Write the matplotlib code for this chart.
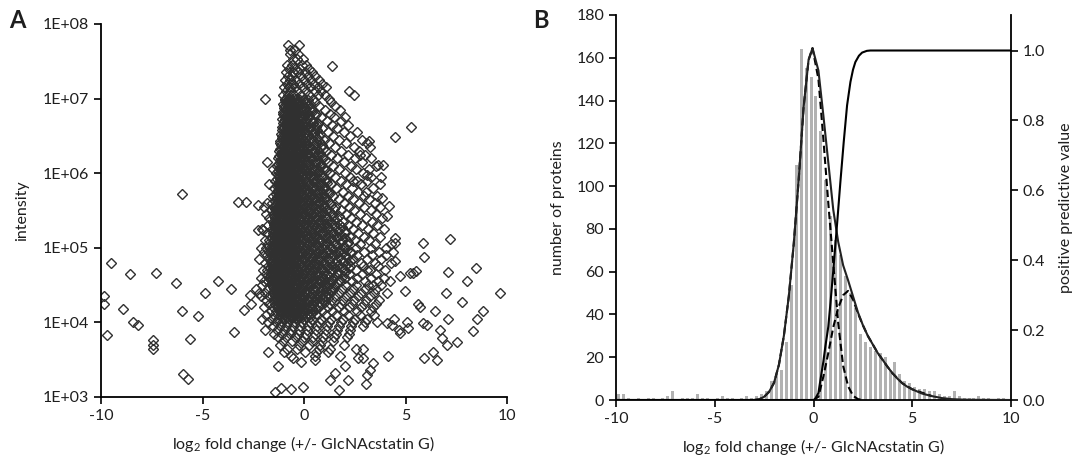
import numpy as np
import matplotlib
matplotlib.use('Agg')
import matplotlib.pyplot as plt
from matplotlib.ticker import FixedLocator, NullLocator

plt.rcParams['font.family'] = ['Lato', 'DejaVu Sans']
plt.rcParams['mathtext.fontset'] = 'custom'
plt.rcParams['mathtext.rm'] = 'Lato'
plt.rcParams['mathtext.it'] = 'Lato:italic'
plt.rcParams['mathtext.bf'] = 'Lato:bold'

TXT = '#1e1e1e'

# ---------------- Panel A: scatter (log2 fold change, log10 intensity) ----------------
# rows of points, "log10(intensity): x values"
core_rows = """
7.72: -0.77 -0.25
7.65: -0.70 -0.45
7.60: -0.69 -0.30
7.53: -0.53 -0.36 -0.05
7.45: -0.85 -0.61 -0.11 0.10
7.40: -0.75 -0.45 -0.20 0.25
7.35: -0.90 -0.55 -0.30 0.05 0.40
7.30: -0.80 -0.60 -0.15 0.20 0.55
7.25: -0.95 -0.70 -0.40 0.00 0.35 0.75
7.20: -0.85 -0.55 -0.25 0.15 0.50 0.90
7.15: -1.00 -0.75 -0.45 -0.05 0.30 0.70 1.10
7.10: -0.90 -0.65 -0.35 0.10 0.55 0.85 2.20
7.05: -1.05 -0.80 -0.50 -0.15 0.25 0.70 1.05 2.45
7.00: -1.90 -0.95 -0.70 -0.40 0.00 0.45 1.25
6.95: -0.90 -0.65 -0.40 0.05 0.55 1.35
6.90: -1.00 -0.80 -0.55 -0.25 0.20 0.75 1.55
6.85: -0.90 -0.70 -0.45 -0.10 0.40 1.05 1.75
6.80: -1.05 -0.85 -0.60 -0.35 0.00 0.60 1.30
6.75: -0.95 -0.75 -0.50 -0.20 0.25 0.85 1.50 2.00
6.70: -1.00 -0.85 -0.65 -0.40 0.10 0.45 1.15 1.80
6.65: -0.90 -0.75 -0.55 -0.30 0.00 0.65 1.40 2.15
6.60: -1.05 -0.85 -0.65 -0.45 -0.15 0.30 0.90 1.65
6.55: -0.95 -0.80 -0.60 -0.35 0.10 0.50 1.20 1.95 2.60
6.50: -1.10 -0.90 -0.70 -0.50 -0.20 0.20 0.75 1.45 2.25
6.45: -1.00 -0.85 -0.65 -0.40 -0.05 0.40 1.00 1.70 2.85
6.40: -1.20 -0.95 -0.75 -0.55 -0.25 0.10 0.60 1.25 2.05 3.10
6.35: -1.05 -0.90 -0.70 -0.45 -0.10 0.30 0.85 1.55 2.45 3.25
6.30: -1.25 -1.00 -0.80 -0.60 -0.35 0.00 0.50 1.10 1.80 2.70
6.25: -1.10 -0.95 -0.75 -0.50 -0.20 0.20 0.70 1.35 2.15 3.00
6.20: -1.30 -1.05 -0.85 -0.65 -0.40 -0.05 0.40 0.95 1.65 2.50 3.30
6.15: -1.15 -1.00 -0.80 -0.55 -0.25 0.15 0.60 1.20 1.95 2.85
6.10: -1.35 -1.10 -0.90 -0.70 -0.45 -0.15 0.25 0.80 1.45 2.30 3.55
6.05: -1.55 -1.20 -1.00 -0.80 -0.55 -0.30 0.05 0.50 1.05 1.70 2.55 3.20
6.00: -1.40 -1.15 -0.95 -0.75 -0.50 -0.20 0.20 0.70 1.30 2.00 2.90
5.95: -1.25 -1.05 -0.85 -0.65 -0.40 -0.10 0.35 0.90 1.55 2.25 3.30 3.80
5.90: -1.45 -1.20 -1.00 -0.80 -0.55 -0.30 0.10 0.55 1.10 1.80 2.60 3.10
5.85: -1.70 -1.30 -1.10 -0.90 -0.70 -0.45 -0.15 0.30 0.80 1.35 2.05 2.80 3.75
5.80: -1.50 -1.25 -1.05 -0.85 -0.60 -0.35 0.00 0.45 1.00 1.60 2.35 3.40
5.75: -1.35 -1.15 -0.95 -0.75 -0.50 -0.20 0.20 0.65 1.25 1.90 2.65 3.05
5.70: -1.55 -1.30 -1.10 -0.90 -0.65 -0.40 -0.05 0.35 0.85 1.45 2.15 2.95 3.60
5.65: -1.40 -1.20 -1.00 -0.80 -0.55 -0.25 0.15 0.55 1.05 1.70 2.40 3.20
5.60: -1.80 -1.60 -1.35 -1.15 -0.95 -0.70 -0.45 -0.10 0.30 0.75 1.30 1.95 2.70 3.50
5.55: -1.95 -1.50 -1.25 -1.05 -0.85 -0.60 -0.35 0.05 0.45 0.95 1.55 2.20 2.95 3.75
5.50: -1.65 -1.40 -1.20 -1.00 -0.75 -0.50 -0.20 0.20 0.65 1.15 1.80 2.45 3.30
5.45: -1.85 -1.55 -1.30 -1.10 -0.90 -0.65 -0.35 0.00 0.40 0.90 1.40 2.05 2.75 3.55
5.40: -1.70 -1.45 -1.25 -1.05 -0.80 -0.55 -0.25 0.15 0.60 1.10 1.65 2.30 3.05 3.85
5.35: -1.55 -1.35 -1.15 -0.95 -0.70 -0.45 -0.10 0.30 0.80 1.30 1.90 2.55 3.35
5.30: -1.75 -1.50 -1.30 -1.10 -0.85 -0.60 -0.30 0.05 0.50 1.00 1.50 2.15 2.85 3.60
5.25: -2.05 -1.60 -1.40 -1.20 -1.00 -0.75 -0.45 -0.15 0.25 0.70 1.20 1.75 2.40 3.15 3.95
5.20: -1.80 -1.55 -1.35 -1.15 -0.90 -0.65 -0.35 0.00 0.40 0.90 1.45 2.00 2.65 3.40
5.15: -1.65 -1.45 -1.25 -1.05 -0.80 -0.55 -0.20 0.15 0.60 1.10 1.65 2.25 2.95 3.75
5.10: -1.90 -1.70 -1.50 -1.30 -1.10 -0.90 -0.65 -0.40 -0.05 0.35 0.80 1.30 1.85 2.50 3.20
5.05: -1.75 -1.55 -1.40 -1.20 -1.00 -0.75 -0.50 -0.20 0.20 0.60 1.05 1.55 2.10 2.75 3.50 4.30
5.00: -2.10 -1.85 -1.60 -1.45 -1.25 -1.05 -0.85 -0.60 -0.30 0.05 0.45 0.90 1.40 1.95 2.55 3.30 4.05
4.95: -1.95 -1.70 -1.50 -1.30 -1.15 -0.95 -0.70 -0.45 -0.15 0.25 0.70 1.15 1.70 2.30 2.95 3.70 4.40
4.90: -1.80 -1.60 -1.40 -1.20 -1.00 -0.80 -0.55 -0.25 0.10 0.50 0.95 1.45 2.00 2.60 3.35 4.05
4.85: -2.20 -1.70 -1.50 -1.30 -1.10 -0.90 -0.65 -0.40 -0.05 0.35 0.75 1.25 1.80 2.40 3.10 3.80
4.80: -1.90 -1.65 -1.45 -1.25 -1.05 -0.80 -0.55 -0.20 0.15 0.55 1.05 1.55 2.15 2.80 3.50 4.30
4.75: -1.75 -1.55 -1.35 -1.15 -0.95 -0.70 -0.45 -0.10 0.30 0.70 1.15 1.65 2.25 2.90 3.65
4.70: -2.00 -1.80 -1.60 -1.40 -1.20 -1.00 -0.80 -0.55 -0.30 0.05 0.45 0.90 1.40 1.95 2.55 3.25 4.00
4.65: -1.85 -1.65 -1.45 -1.25 -1.05 -0.85 -0.60 -0.35 -0.05 0.30 0.70 1.15 1.65 2.20 2.85 3.55
4.60: -2.10 -1.70 -1.50 -1.30 -1.10 -0.90 -0.70 -0.45 -0.15 0.20 0.55 0.95 1.45 2.00 2.60 3.30 3.95
4.55: -1.95 -1.75 -1.55 -1.35 -1.15 -0.95 -0.75 -0.50 -0.25 0.10 0.45 0.85 1.30 1.80 2.35 3.00 3.65 4.25
4.50: -2.05 -1.60 -1.40 -1.20 -1.00 -0.80 -0.60 -0.35 -0.05 0.30 0.65 1.05 1.50 2.00 2.55 3.15 3.80
4.45: -2.35 -1.75 -1.50 -1.30 -1.10 -0.90 -0.70 -0.45 -0.15 0.15 0.50 0.90 1.35 1.85 2.40 3.00 3.55
4.40: -1.90 -1.55 -1.35 -1.15 -0.95 -0.75 -0.50 -0.25 0.05 0.40 0.80 1.20 1.70 2.25 2.80 3.45 4.10
4.35: -2.10 -1.70 -1.45 -1.25 -1.05 -0.85 -0.60 -0.35 -0.05 0.30 0.65 1.05 1.55 2.05 2.65 3.25
4.30: -1.85 -1.55 -1.35 -1.15 -0.90 -0.65 -0.40 -0.10 0.20 0.55 0.95 1.40 1.90 2.45 3.05 3.70
4.25: -1.70 -1.45 -1.20 -1.00 -0.75 -0.50 -0.20 0.10 0.45 0.85 1.30 1.80 2.35 2.95 3.55
4.20: -1.95 -1.55 -1.30 -1.05 -0.80 -0.55 -0.30 0.00 0.35 0.75 1.20 1.70 2.20 2.80 3.40
4.15: -1.65 -1.40 -1.15 -0.90 -0.60 -0.30 0.05 0.45 0.90 1.40 1.95 2.60 3.30
4.10: -1.85 -1.50 -1.20 -0.95 -0.70 -0.40 -0.10 0.25 0.65 1.10 1.60 2.15 2.75 3.45
4.05: -2.05 -1.60 -1.30 -1.00 -0.70 -0.35 0.00 0.40 0.85 1.35 1.90 2.50 3.10
4.00: -1.75 -1.40 -1.10 -0.80 -0.45 -0.10 0.30 0.75 1.25 1.80 2.40 3.00 3.60
3.95: -1.55 -1.20 -0.90 -0.55 -0.20 0.20 0.65 1.15 1.70 2.30 2.90
3.90: -1.35 -1.00 -0.65 -0.25 0.15 0.60 1.10 1.65 2.25
3.85: -1.50 -1.10 -0.70 -0.30 0.10 0.55 1.05 1.60 2.20
3.80: -1.30 -0.90 -0.45 0.00 0.45 0.95 1.50 2.10
3.75: -1.05 -0.60 -0.10 0.40 0.90 1.45
3.70: -1.20 -0.25 0.25 0.80 1.95
3.65: -0.85 -0.35 0.75 1.30
3.60: -1.00 0.05 0.60 1.20
3.55: -0.65 0.55 1.75
"""

# the crowded black centre of the cloud, between the rows above
dense_rows = """
6.975: -0.95 -0.82 -0.68 -0.57 -0.43 -0.31 -0.18 0.02 0.22
6.925: -1.02 -0.88 -0.76 -0.61 -0.49 -0.36 -0.22 -0.08 0.12 0.31
6.875: -0.97 -0.84 -0.71 -0.58 -0.46 -0.33 -0.14 0.06 0.28
6.825: -1.05 -0.92 -0.79 -0.66 -0.52 -0.39 -0.27 -0.09 0.15 0.38
6.775: -1.00 -0.86 -0.73 -0.60 -0.47 -0.34 -0.20 0.00 0.24 0.52
6.725: -1.08 -0.94 -0.81 -0.69 -0.55 -0.42 -0.29 -0.12 0.08 0.33
6.675: -1.03 -0.89 -0.76 -0.63 -0.50 -0.37 -0.23 -0.05 0.18 0.44 0.70
6.625: -1.10 -0.97 -0.84 -0.71 -0.58 -0.44 -0.31 -0.16 0.04 0.27 0.58
6.575: -1.06 -0.92 -0.79 -0.66 -0.53 -0.40 -0.26 -0.08 0.13 0.38 0.66
6.525: -1.14 -1.00 -0.87 -0.74 -0.61 -0.47 -0.33 -0.18 0.01 0.22 0.48 0.80
6.475: -1.09 -0.95 -0.82 -0.69 -0.56 -0.42 -0.28 -0.11 0.09 0.33 0.62
6.425: -1.17 -1.03 -0.90 -0.77 -0.64 -0.50 -0.36 -0.21 -0.03 0.18 0.43 0.74
6.375: -1.12 -0.98 -0.85 -0.72 -0.59 -0.45 -0.31 -0.15 0.05 0.27 0.53 0.88
6.325: -1.20 -1.06 -0.93 -0.80 -0.67 -0.53 -0.39 -0.24 -0.07 0.13 0.37 0.66 0.95
6.275: -1.15 -1.01 -0.88 -0.75 -0.62 -0.48 -0.34 -0.18 0.01 0.22 0.47 0.78
6.225: -1.23 -1.09 -0.96 -0.83 -0.70 -0.56 -0.42 -0.27 -0.10 0.09 0.31 0.57 0.90
6.175: -1.18 -1.04 -0.91 -0.78 -0.65 -0.51 -0.37 -0.21 -0.03 0.17 0.41 0.69 1.02
6.125: -1.26 -1.12 -0.99 -0.86 -0.73 -0.59 -0.45 -0.30 -0.13 0.06 0.27 0.52 0.82
6.075: -1.21 -1.07 -0.94 -0.81 -0.68 -0.54 -0.40 -0.24 -0.06 0.14 0.37 0.63 0.95
6.025: -1.29 -1.15 -1.02 -0.89 -0.76 -0.62 -0.48 -0.33 -0.16 0.03 0.24 0.48 0.76 1.08
5.975: -1.24 -1.10 -0.97 -0.84 -0.71 -0.57 -0.43 -0.27 -0.09 0.11 0.33 0.59 0.89
5.925: -1.32 -1.18 -1.05 -0.92 -0.79 -0.65 -0.51 -0.36 -0.19 0.00 0.21 0.45 0.72 1.02
5.875: -1.27 -1.13 -1.00 -0.87 -0.74 -0.60 -0.46 -0.30 -0.12 0.08 0.30 0.55 0.84 1.15
5.825: -1.35 -1.21 -1.08 -0.95 -0.82 -0.68 -0.54 -0.39 -0.22 -0.03 0.18 0.42 0.68 0.98
5.775: -1.30 -1.16 -1.03 -0.90 -0.77 -0.63 -0.49 -0.33 -0.15 0.05 0.27 0.51 0.79 1.10
5.725: -1.38 -1.24 -1.11 -0.98 -0.85 -0.71 -0.57 -0.42 -0.25 -0.06 0.15 0.38 0.64 0.93 1.25
5.675: -1.33 -1.19 -1.06 -0.93 -0.80 -0.66 -0.52 -0.36 -0.18 0.02 0.24 0.48 0.75 1.05
5.625: -1.41 -1.27 -1.14 -1.01 -0.88 -0.74 -0.60 -0.45 -0.28 -0.09 0.12 0.35 0.60 0.88 1.19
5.575: -1.36 -1.22 -1.09 -0.96 -0.83 -0.69 -0.55 -0.39 -0.21 -0.01 0.21 0.45 0.71 1.00 1.32
5.525: -1.44 -1.30 -1.17 -1.04 -0.91 -0.77 -0.63 -0.48 -0.31 -0.12 0.09 0.32 0.57 0.84 1.14 1.46
5.475: -1.39 -1.25 -1.12 -0.99 -0.86 -0.72 -0.58 -0.42 -0.24 -0.04 0.18 0.42 0.68 0.96 1.27
5.425: -1.47 -1.33 -1.20 -1.07 -0.94 -0.80 -0.66 -0.51 -0.34 -0.15 0.06 0.29 0.54 0.81 1.10 1.41 1.70
5.375: -1.42 -1.28 -1.15 -1.02 -0.89 -0.75 -0.61 -0.45 -0.27 -0.07 0.15 0.39 0.65 0.93 1.23 1.55
5.325: -1.50 -1.36 -1.23 -1.10 -0.97 -0.83 -0.69 -0.54 -0.37 -0.18 0.03 0.26 0.51 0.78 1.07 1.38 1.72
5.275: -1.45 -1.31 -1.18 -1.05 -0.92 -0.78 -0.64 -0.48 -0.30 -0.10 0.12 0.36 0.62 0.90 1.20 1.52 1.86
5.225: -1.53 -1.39 -1.26 -1.13 -1.00 -0.86 -0.72 -0.57 -0.40 -0.21 0.00 0.23 0.48 0.75 1.04 1.35 1.68 2.03
5.175: -1.48 -1.34 -1.21 -1.08 -0.95 -0.81 -0.67 -0.51 -0.33 -0.13 0.09 0.33 0.59 0.87 1.17 1.49 1.83
5.125: -1.56 -1.42 -1.29 -1.16 -1.03 -0.89 -0.75 -0.60 -0.43 -0.24 -0.03 0.20 0.45 0.72 1.01 1.32 1.65 2.00
5.075: -1.51 -1.37 -1.24 -1.11 -0.98 -0.84 -0.70 -0.54 -0.36 -0.16 0.06 0.30 0.56 0.84 1.14 1.46 1.80 2.16
5.025: -1.59 -1.45 -1.32 -1.19 -1.06 -0.92 -0.78 -0.63 -0.46 -0.27 -0.06 0.17 0.42 0.69 0.98 1.29 1.62 1.97
4.975: -1.54 -1.40 -1.27 -1.14 -1.01 -0.87 -0.73 -0.57 -0.39 -0.19 0.03 0.27 0.53 0.81 1.11 1.43 1.77 2.13
4.925: -1.62 -1.48 -1.35 -1.22 -1.09 -0.95 -0.81 -0.66 -0.49 -0.30 -0.09 0.14 0.39 0.66 0.95 1.26 1.59 1.94 2.30
4.875: -1.57 -1.43 -1.30 -1.17 -1.04 -0.90 -0.76 -0.60 -0.42 -0.22 0.00 0.24 0.50 0.78 1.08 1.40 1.74 2.10
4.825: -1.65 -1.51 -1.38 -1.25 -1.12 -0.98 -0.84 -0.69 -0.52 -0.33 -0.12 0.11 0.36 0.63 0.92 1.23 1.56 1.91 2.27
4.775: -1.60 -1.46 -1.33 -1.20 -1.07 -0.93 -0.79 -0.63 -0.45 -0.25 -0.03 0.21 0.47 0.75 1.05 1.37 1.71 2.07
4.725: -1.68 -1.54 -1.41 -1.28 -1.15 -1.01 -0.87 -0.72 -0.55 -0.36 -0.15 0.08 0.33 0.60 0.89 1.20 1.53 1.88 2.24
4.675: -1.63 -1.49 -1.36 -1.23 -1.10 -0.96 -0.82 -0.66 -0.48 -0.28 -0.06 0.18 0.44 0.72 1.02 1.34 1.68 2.04
4.625: -1.66 -1.52 -1.39 -1.26 -1.13 -0.99 -0.85 -0.70 -0.53 -0.34 -0.13 0.10 0.35 0.62 0.91 1.22 1.55 1.90
4.575: -1.61 -1.47 -1.34 -1.21 -1.08 -0.94 -0.80 -0.64 -0.46 -0.26 -0.04 0.20 0.46 0.74 1.04 1.36 1.70
4.525: -1.58 -1.44 -1.31 -1.18 -1.05 -0.91 -0.77 -0.62 -0.45 -0.26 -0.05 0.18 0.43 0.70 0.99 1.30 1.63
4.475: -1.53 -1.39 -1.26 -1.13 -1.00 -0.86 -0.72 -0.56 -0.38 -0.18 0.04 0.28 0.54 0.82 1.12 1.44
4.425: -1.49 -1.35 -1.22 -1.09 -0.96 -0.82 -0.68 -0.53 -0.36 -0.17 0.04 0.27 0.52 0.79 1.08 1.39
4.375: -1.44 -1.30 -1.17 -1.04 -0.91 -0.77 -0.63 -0.47 -0.29 -0.09 0.13 0.37 0.63 0.91 1.21
4.325: -1.38 -1.24 -1.11 -0.98 -0.85 -0.71 -0.57 -0.42 -0.25 -0.06 0.15 0.38 0.63 0.90 1.19
4.275: -1.33 -1.19 -1.06 -0.93 -0.80 -0.66 -0.52 -0.36 -0.18 0.02 0.24 0.48 0.74 1.02
4.225: -1.27 -1.13 -1.00 -0.87 -0.74 -0.60 -0.46 -0.31 -0.14 0.05 0.26 0.49 0.74
4.175: -1.20 -1.06 -0.93 -0.80 -0.67 -0.53 -0.39 -0.23 -0.05 0.15 0.37 0.61
4.125: -1.14 -1.00 -0.87 -0.74 -0.61 -0.47 -0.33 -0.18 -0.01 0.18 0.39
4.075: -1.05 -0.91 -0.78 -0.65 -0.52 -0.38 -0.24 -0.08 0.10 0.30
"""

# isolated points read individually (log2 fold change, log10 intensity)
out_x = [-9.51, -9.85, -9.85, -9.72, -8.57, -8.90, -8.44, -8.18, -7.31, -7.45, -7.45, -7.45,
         -6.31, -5.99, -6.02, -5.22, -4.89, -5.62, -5.98, -5.73, -4.22, -3.60, -3.43, -3.24,
         -2.87, -2.94, -2.66, -2.63, -2.22, -2.25, -2.28, -2.00, -1.84, -1.92, -1.79, -1.43,
         -1.13, -0.64, -0.06, 1.71, -1.30, -0.53, -0.15, 0.54, 1.28, 1.53, 2.02, 2.18, 3.05,
         3.09, 3.25, 3.38, 2.56, 2.92, 2.67, 2.92, 4.15, 5.91, 6.37, 6.54, 7.03, 7.52, 6.78,
         6.70, 7.11, 7.77, 8.34, 8.51, 8.83, 8.01, 8.47, 7.11, 9.66, 6.98, 7.19, 6.45, 5.88,
         5.91, 5.85, 6.04, 5.63, 5.71, 5.52, 5.22, 5.38, 4.73, 4.98, 4.48, 4.48, 4.48, 4.48,
         5.27, 4.07, 3.83, 4.20, 3.88, 3.66, 3.22, 3.09, 2.76, 4.73, 5.06, 5.14, 4.07, 4.32,
         1.40, 4.70, 4.45, 3.40, 3.10, 2.40]
out_logI = [4.79, 4.35, 4.25, 3.83, 4.65, 4.18, 4.01, 3.97, 4.66, 3.77, 3.70, 3.65,
            4.53, 5.72, 4.15, 4.08, 4.40, 3.78, 3.31, 3.24, 4.55, 4.45, 3.87, 5.62,
            5.62, 4.16, 4.37, 4.24, 4.39, 5.58, 5.24, 5.24, 6.15, 3.90, 3.60, 3.07,
            3.12, 3.11, 3.13, 3.09, 3.41, 3.52, 3.47, 3.50, 3.23, 3.32, 3.41, 3.23, 3.17,
            3.30, 3.36, 3.46, 3.65, 3.65, 3.52, 3.52, 3.55, 3.52, 3.60, 3.50, 3.70, 3.74, 3.79,
            3.90, 4.05, 4.28, 3.89, 4.05, 4.15, 4.55, 4.73, 4.67, 4.39, 4.39, 5.12, 4.15, 5.07,
            4.88, 3.99, 3.97, 4.25, 4.21, 4.69, 4.66, 4.66, 4.62, 4.42, 6.48, 5.13, 5.07, 4.82,
            6.62, 5.42, 5.67, 5.56, 6.11, 6.11, 6.43, 5.98, 6.25, 3.86, 4.00, 3.92, 3.99, 3.97,
            7.44, 3.90, 4.05, 4.50, 4.70, 5.90]


def parse_rows(text):
    xs, ys = [], []
    for line in text.strip().splitlines():
        key, vals = line.split(':')
        for v in vals.split():
            xs.append(float(v))
            ys.append(float(key))
    return xs, ys


core_x, core_logI = parse_rows(core_rows)
dense_x, dense_logI = parse_rows(dense_rows)

scatter_x = np.array(dense_x + core_x + out_x)
scatter_intensity = 10.0 ** np.array(dense_logI + core_logI + out_logI)

intensity_ticks = [1e3, 1e4, 1e5, 1e6, 1e7, 1e8]
intensity_labels = ['1E+03', '1E+04', '1E+05', '1E+06', '1E+07', '1E+08']
fold_ticks = [-10, -5, 0, 5, 10]

# ---------------- Panel B: histogram + fits + PPV ----------------
bin_edges = np.arange(-10.0, 10.0001, 0.25)
bin_counts = [3, 3, 1, 0, 1, 0, 1, 1, 0, 1,
              2, 4, 0, 1, 1, 1, 3, 1, 1, 0,
              1, 2, 1, 1, 0, 1, 2, 1, 2, 3,
              4, 9, 12, 14, 27, 54, 110, 164, 155, 151,
              142, 126, 103, 86, 75, 68, 58, 50, 43, 31,
              27, 25, 23, 22, 20, 14, 18, 12, 9, 8,
              6, 5, 5, 4, 4, 3, 2, 2, 4, 2,
              1, 1, 1, 2, 1, 1, 0, 1, 1, 0]

total_x = [-10.0, -3.0, -2.75, -2.5, -2.25, -2.0, -1.75, -1.5, -1.25, -1.0, -0.75, -0.5, -0.25,
           -0.05, 0.25, 0.5, 0.75, 1.0, 1.25, 1.5, 1.75, 2.0, 2.25, 2.5, 2.75, 3.0, 3.25, 3.5,
           3.75, 4.0, 4.25, 4.5, 4.75, 5.0, 5.5, 6.0, 6.5, 7.0, 7.5, 8.0, 10.0]
total_fit = [0.0, 0.0, 0.3, 1.5, 3.8, 8.0, 16.5, 30.0, 48.5, 73.0, 103.0, 137.0, 159.0,
             164.5, 154.0, 133.0, 111.0, 89.0, 74.0, 63.0, 56.0, 48.5, 41.0, 35.0, 30.0, 26.0,
             22.0, 18.8, 15.5, 12.5, 10.0, 7.8, 6.2, 5.0, 3.0, 1.8, 0.9, 0.4, 0.2, 0.1, 0.0]

comp1_x = [-3.0, -2.75, -2.5, -2.25, -2.0, -1.75, -1.5, -1.25, -1.0, -0.75, -0.5, -0.25, -0.05,
           0.25, 0.5, 0.75, 1.0, 1.25, 1.5, 1.75, 2.0, 2.25, 2.5]
comp1_fit = [0.0, 0.3, 1.5, 3.8, 8.0, 16.5, 30.0, 48.5, 73.0, 103.0, 137.0, 159.0, 164.5,
             150.0, 122.0, 92.0, 64.0, 36.0, 16.0, 6.5, 2.0, 0.4, 0.0]

comp2_x = [0.0, 0.25, 0.5, 0.75, 1.0, 1.25, 1.5, 1.75, 2.0, 2.25, 2.5, 2.75, 3.0, 3.25, 3.5,
           3.75, 4.0, 4.5, 5.0, 6.0]
comp2_fit = [0.0, 1.5, 11.0, 22.0, 34.0, 43.0, 49.0, 51.0, 47.0, 40.5, 35.0, 30.0, 26.0, 22.0,
             18.8, 15.5, 12.5, 7.8, 5.0, 1.8]

ppv_x = [-10.0, 0.05, 0.25, 0.35, 0.5, 0.6, 0.75, 0.86, 1.0, 1.2, 1.36, 1.53, 1.7, 1.87, 2.0,
         2.12, 2.3, 2.46, 2.7, 2.88, 10.0]
ppv = [0.0, 0.0, 0.02, 0.057, 0.11, 0.153, 0.21, 0.278, 0.37, 0.508, 0.623, 0.738, 0.843,
       0.91, 0.945, 0.967, 0.985, 0.994, 0.999, 1.0, 1.0]

count_ticks = list(range(0, 181, 20))
ppv_ticks = [0.0, 0.2, 0.4, 0.6, 0.8, 1.0]

# ---------------- figure ----------------
W, H = 1079, 458
fig = plt.figure(figsize=(W / 100, H / 100), dpi=100)


def frac(l, t, r, b):
    return [l / W, 1 - b / H, (r - l) / W, (b - t) / H]


axA = fig.add_axes(frac(101, 24, 507, 397))
axB = fig.add_axes(frac(616, 15, 1011, 400))

tick_kw = dict(direction='out', length=5, width=1.2, colors='black', labelcolor=TXT, labelsize=11.5)

# Panel A: hollow diamonds, so crowded markers add up to black
axA.plot(scatter_x, scatter_intensity, linestyle='none', marker='D', markersize=4.8,
         markerfacecolor='none', markeredgecolor='#303030', markeredgewidth=1.0)
axA.set_yscale('log')
axA.set_xlim(-10, 10)
axA.set_ylim(1e3, 1e8)
axA.yaxis.set_major_locator(FixedLocator(intensity_ticks))
axA.set_yticklabels(intensity_labels)
axA.yaxis.set_minor_locator(NullLocator())
axA.set_xticks(fold_ticks)
axA.set_xticklabels([str(t) for t in fold_ticks])
for s in ['top', 'right']:
    axA.spines[s].set_visible(False)
for s in ['left', 'bottom']:
    axA.spines[s].set_linewidth(1.3)
axA.tick_params(**tick_kw)
axA.set_ylabel('intensity', fontsize=11.5, color=TXT, labelpad=10)
axA.set_xlabel(r'log$_2$ fold change (+/- GlcNAcstatin G)', fontsize=11.5, color=TXT, labelpad=8)

# Panel B
centers = (bin_edges[:-1] + bin_edges[1:]) / 2
axB.bar(centers, bin_counts, width=0.15, color='#b2b2b2', edgecolor='none', zorder=1)
axB.plot(comp1_x, comp1_fit, color='black', lw=1.5, ls=(0, (3.5, 1.8)), zorder=3)
axB.plot(comp2_x, comp2_fit, color='black', lw=1.5, ls=(0, (3.5, 1.8)), zorder=3)
axB.plot(total_x, total_fit, color='#222222', lw=1.5, zorder=4)
axB.set_xlim(-10, 10)
axB.set_ylim(0, 180)
axB.set_xticks(fold_ticks)
axB.set_xticklabels([str(t) for t in fold_ticks])
axB.set_yticks(count_ticks)
axB.spines['top'].set_visible(False)
axB.spines['right'].set_visible(False)
for s in ['left', 'bottom']:
    axB.spines[s].set_linewidth(1.3)
axB.tick_params(**tick_kw)
axB.set_ylabel('number of proteins', fontsize=11.5, color=TXT, labelpad=8)
axB.set_xlabel(r'log$_2$ fold change (+/- GlcNAcstatin G)', fontsize=11.5, color=TXT, labelpad=8)

axR = axB.twinx()
axR.plot(ppv_x, ppv, color='black', lw=1.5, zorder=5)
axR.set_ylim(0, 180 / 163.4)
axR.set_yticks(ppv_ticks)
axR.set_yticklabels(['%.1f' % t for t in ppv_ticks])
for s in ['top', 'left', 'bottom']:
    axR.spines[s].set_visible(False)
axR.spines['right'].set_linewidth(1.3)
axR.tick_params(**tick_kw)
axR.set_ylabel('positive predictive value', fontsize=11.5, color=TXT, labelpad=10)

fig.text(9 / W, 1 - 20 / H, 'A', fontsize=17, fontweight='bold', color=TXT, va='center')
fig.text(533 / W, 1 - 20 / H, 'B', fontsize=17, fontweight='bold', color=TXT, va='center')

fig.savefig('out.png', dpi=100)
